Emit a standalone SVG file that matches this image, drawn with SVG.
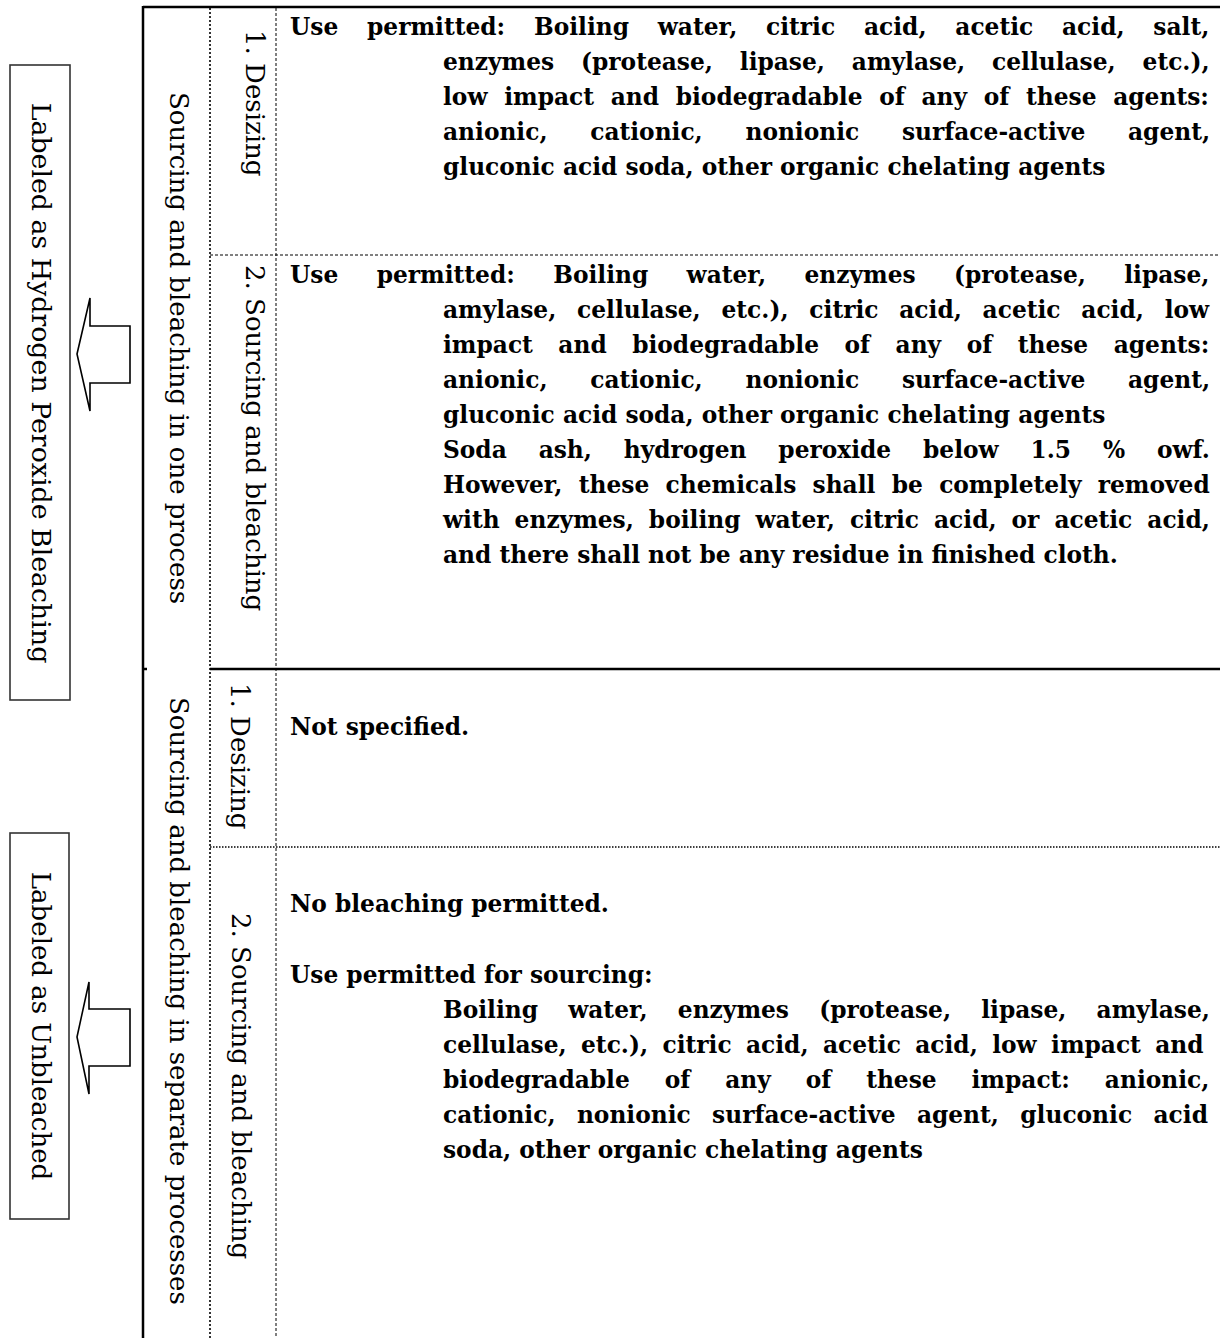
<svg xmlns="http://www.w3.org/2000/svg" width="1220" height="1338" viewBox="0 0 1220 1338">
<style>
.body{font-family:"DejaVu Serif","Liberation Serif",serif;font-weight:bold;font-size:23.3px;fill:#000}
.lbl{font-family:"DejaVu Serif","Liberation Serif",serif;font-size:26px;fill:#000}
.solid{stroke:#000;stroke-width:2.5;fill:none}
.dot{stroke:#000;stroke-width:1.6;stroke-dasharray:2 2;fill:none}
.dash{stroke:#000;stroke-width:1;stroke-dasharray:3 2;fill:none}
.box{fill:#fff;stroke:#333;stroke-width:1.6}
.arrow{fill:#fff;stroke:#000;stroke-width:1.6;stroke-linejoin:miter}
</style>
<rect width="1220" height="1338" fill="#fff"/>
<g id="connectors">
<line class="solid" x1="143" y1="7" x2="1220" y2="7"/>
<line class="solid" x1="143" y1="6" x2="143" y2="1338"/>
<line class="solid" x1="210" y1="669" x2="1220" y2="669"/>
<line class="solid" x1="143" y1="669" x2="147" y2="669"/>
<line class="dot" x1="210" y1="8" x2="210" y2="1338"/>
<line class="dash" x1="276" y1="8" x2="276" y2="1338"/>
<line class="dash" x1="210" y1="255" x2="1220" y2="255"/>
<line class="dot" x1="210" y1="847" x2="1220" y2="847" style="stroke-width:1.4;stroke-dasharray:1.5 1.5"/>
<polygon class="arrow" points="77,354 90,298 90,326 130,326 130,383 90,383 90,411"/>
<polygon class="arrow" points="77,1037 89,982 89,1009 130,1009 130,1066 89,1066 89,1094"/>
</g>
<g id="node-hydrogen">
<rect class="box" x="10" y="65" width="60" height="635"/>
<text class="lbl" text-anchor="middle" transform="translate(32,383) rotate(90)" style="font-size:26.8px">Labeled as Hydrogen Peroxide Bleaching</text>
</g>
<g id="node-unbleached">
<rect class="box" x="10" y="833" width="59" height="386"/>
<text class="lbl" text-anchor="middle" transform="translate(32,1026) rotate(90)">Labeled as Unbleached</text>
</g>
<g id="node-one-process">
<text class="lbl" transform="translate(170,92) rotate(90)">Sourcing and bleaching in one process</text>
</g>
<g id="node-separate">
<text class="lbl" transform="translate(170,697) rotate(90)">Sourcing and bleaching in separate processes</text>
</g>
<g id="node-desizing-1">
<text class="lbl" transform="translate(246,30) rotate(90)">1. Desizing</text>
<text class="body" x="290" y="35" word-spacing="20.7">Use permitted: Boiling water, citric acid, acetic acid, salt,</text>
<text class="body" x="443" y="70" word-spacing="18.8">enzymes (protease, lipase, amylase, cellulase, etc.),</text>
<text class="body" x="443" y="105" word-spacing="8.6">low impact and biodegradable of any of these agents:</text>
<text class="body" x="443" y="140" word-spacing="34.6">anionic, cationic, nonionic surface-active agent,</text>
<text class="body" x="443" y="175">gluconic acid soda, other organic chelating agents</text>
</g>
<g id="node-scouring-1">
<text class="lbl" transform="translate(246,265) rotate(90)">2. Sourcing and bleaching</text>
<text class="body" x="290" y="283" word-spacing="30.3">Use permitted: Boiling water, enzymes (protease, lipase,</text>
<text class="body" x="443" y="318" word-spacing="12.7">amylase, cellulase, etc.), citric acid, acetic acid, low</text>
<text class="body" x="443" y="353" word-spacing="17.4">impact and biodegradable of any of these agents:</text>
<text class="body" x="443" y="388" word-spacing="34.6">anionic, cationic, nonionic surface-active agent,</text>
<text class="body" x="443" y="423">gluconic acid soda, other organic chelating agents</text>
<text class="body" x="443" y="458" word-spacing="23.8">Soda ash, hydrogen peroxide below 1.5 % owf.</text>
<text class="body" x="443" y="493" word-spacing="8.2">However, these chemicals shall be completely removed</text>
<text class="body" x="443" y="528" word-spacing="6.9">with enzymes, boiling water, citric acid, or acetic acid,</text>
<text class="body" x="443" y="563">and there shall not be any residue in finished cloth.</text>
</g>
<g id="node-desizing-2">
<text class="lbl" transform="translate(231,683) rotate(90)">1. Desizing</text>
<text class="body" x="290" y="735">Not specified.</text>
</g>
<g id="node-scouring-2">
<text class="lbl" transform="translate(232,913) rotate(90)">2. Sourcing and bleaching</text>
<text class="body" x="290" y="912">No bleaching permitted.</text>
<text class="body" x="290" y="983">Use permitted for sourcing:</text>
<text class="body" x="443" y="1018" word-spacing="22.1">Boiling water, enzymes (protease, lipase, amylase,</text>
<text class="body" x="443" y="1053" word-spacing="6.3">cellulase, etc.), citric acid, acetic acid, low impact and</text>
<text class="body" x="443" y="1088" word-spacing="26.8">biodegradable of any of these impact: anionic,</text>
<text class="body" x="443" y="1123" word-spacing="13.3">cationic, nonionic surface-active agent, gluconic acid</text>
<text class="body" x="443" y="1158">soda, other organic chelating agents</text>
</g>
</svg>
